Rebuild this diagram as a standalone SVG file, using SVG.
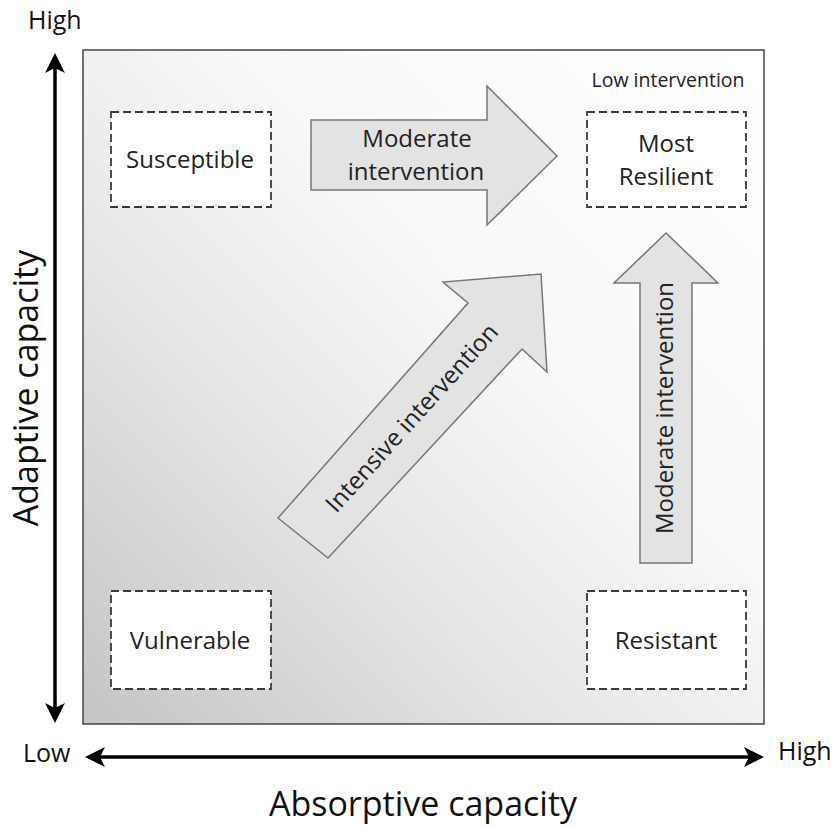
<svg xmlns="http://www.w3.org/2000/svg" width="839" height="829" viewBox="0 0 839 829">
<style>
text{font-family:"Open Sans","Liberation Sans",sans-serif;fill:#222}
.lbl{font-size:24px;text-anchor:middle}
.ax{font-size:25px;fill:#111}
.title{font-size:34px;text-anchor:middle;fill:#111}
.dash{fill:#fff;stroke:#3a3a3a;stroke-width:1.8;stroke-dasharray:8 4}
.fat{fill:#e3e3e3;stroke:#777;stroke-width:1.5;stroke-linejoin:miter}
.axis{stroke:#000;stroke-width:3.5;fill:none}
</style>
<defs>
<linearGradient id="bg" gradientUnits="userSpaceOnUse" x1="83" y1="724" x2="764" y2="50">
<stop offset="0" stop-color="#c4c4c4"/>
<stop offset="0.35" stop-color="#e6e6e6"/>
<stop offset="0.6" stop-color="#f8f8f8"/>
<stop offset="1" stop-color="#ffffff"/>
</linearGradient>
<marker id="head" viewBox="-14 -12 24 24" refX="0" refY="0" markerWidth="24" markerHeight="24" markerUnits="userSpaceOnUse" orient="auto-start-reverse">
<path d="M8,0 L-12,-10 L-7,0 L-12,10 Z" fill="#000"/>
</marker>
</defs>

<g id="background">
<rect x="83" y="50" width="681" height="674" fill="url(#bg)" stroke="#444" stroke-width="1.5"/>
</g>

<g id="connectors">
<line class="axis" x1="55" y1="61" x2="55" y2="715" marker-start="url(#head)" marker-end="url(#head)"/>
<line class="axis" x1="93" y1="757" x2="756" y2="757" marker-start="url(#head)" marker-end="url(#head)"/>
<g id="arrow-moderate-h">
<path class="fat" d="M311,120 L487,120 L487,86 L557,156 L487,225 L487,190 L311,190 Z"/>
<text class="lbl" x="417" y="147">Moderate</text>
<text class="lbl" x="416" y="180">intervention</text>
</g>
<g id="arrow-moderate-v">
<path class="fat" d="M640,563 L640,283 L614,283 L666,233 L718,283 L692,283 L692,563 Z"/>
<text class="lbl" transform="translate(673,408) rotate(-90)" x="0" y="0">Moderate intervention</text>
</g>
<g id="arrow-intensive">
<path class="fat" d="M278,518 L468,303 L443,282 L541,274 L547,372 L522,349 L328,558 Z"/>
<text class="lbl" transform="translate(412,418) rotate(-48)" x="0" y="8">Intensive intervention</text>
</g>
</g>

<g id="node-susceptible">
<rect class="dash" x="111" y="112" width="160" height="95"/>
<text class="lbl" x="190" y="168">Susceptible</text>
</g>
<g id="node-most-resilient">
<rect class="dash" x="587" y="112" width="159" height="95"/>
<text class="lbl" x="666" y="152">Most</text>
<text class="lbl" x="666" y="185">Resilient</text>
</g>
<g id="node-low-intervention">
<text x="668" y="87" style="font-size:19.5px;text-anchor:middle">Low intervention</text>
</g>
<g id="node-vulnerable">
<rect class="dash" x="111" y="591" width="160" height="98"/>
<text class="lbl" x="190" y="649">Vulnerable</text>
</g>
<g id="node-resistant">
<rect class="dash" x="587" y="591" width="159" height="98"/>
<text class="lbl" x="666" y="649">Resistant</text>
</g>

<g id="axis-labels">
<text class="ax" x="28" y="29">High</text>
<text class="ax" x="23" y="762">Low</text>
<text class="ax" x="778" y="760">High</text>
<text class="title" x="423" y="816">Absorptive capacity</text>
<text class="title" transform="translate(38,388) rotate(-90)" x="0" y="0">Adaptive capacity</text>
</g>
</svg>
